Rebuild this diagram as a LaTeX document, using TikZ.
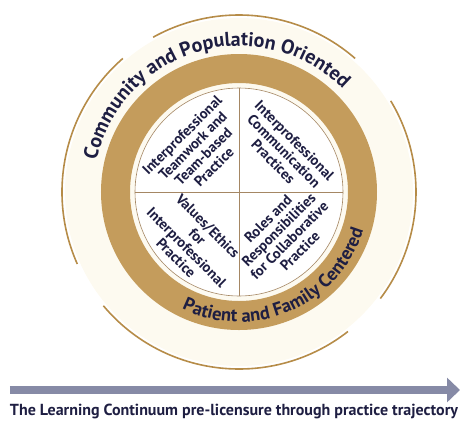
\documentclass[tikz,border=0pt]{standalone}
\usepackage{fontspec}
\setmainfont{PT Sans}
\usetikzlibrary{arrows.meta,decorations.text}
\definecolor{ringgold}{RGB}{196,156,92}
\definecolor{arcgold}{RGB}{182,140,72}
\definecolor{creamfill}{RGB}{253,250,240}
\definecolor{inknavy}{RGB}{30,30,66}
\definecolor{arrowgray}{RGB}{134,138,166}
\definecolor{discline}{RGB}{165,135,100}
\tikzset{
  quadtext/.style={align=center,text=inknavy,inner sep=0pt,
    font=\bfseries\fontsize{14.5}{15}\selectfont},
  outerarc/.style={arcgold,line width=1.6pt},
  divider/.style={discline,line width=0.6pt},
  track/.style={arrowgray,line width=8pt,-{Triangle[length=13pt,width=24pt]}},
  captiontext/.style={text=inknavy,inner sep=0pt,font=\bfseries\fontsize{16}{18}\selectfont}
}

\begin{document}
\begin{tikzpicture}[x=1pt,y=1pt]

    % -- Radii of the rings (centre of the wheel is the origin) --
    \def\rdisc{104}   % white disc with the four competencies
    \def\rgoldin{109} % inner edge of the gold ring
    \def\rgoldout{138}% outer edge of the gold ring
    \def\rcream{174}  % cream background disc
    \def\rarc{177}    % thin outer arcs

    \useasboundingbox (-239,-232) rectangle (221,192);
    \coordinate (hub) at (0,0);

    % -- Background disc and gold ring --
    \fill[creamfill] (hub) circle[radius=\rcream];
    \fill[ringgold,even odd rule] (hub) circle[radius=\rgoldout] (hub) circle[radius=\rgoldin];
    \filldraw[fill=white,draw=discline,line width=0.6pt] (hub) circle[radius=\rdisc];

    % -- Thin outer arcs with gaps between them --
    \foreach \from/\to in {49/119,131/204,220/308,323/391}
      \draw[outerarc] (\from:\rarc) arc[start angle=\from,end angle=\to,radius=\rarc];

    % -- Quadrant dividers --
    \draw[divider] (-\rdisc,0) -- (\rdisc,0);
    \draw[divider] (0,-\rdisc) -- (0,\rdisc);

    % -- Text along the rings --
    \path[decorate,decoration={text along path,text align=center,
      text={|\color{inknavy}\bfseries\fontsize{20}{20}\selectfont|Community and Population Oriented}}]
      (176:146) arc[start angle=176,end angle=36,radius=146];
    \path[decorate,decoration={text along path,text align=center,
      text={|\color{inknavy}\bfseries\fontsize{18.5}{18.5}\selectfont|Patient and Family Centered}}]
      (233:130) arc[start angle=233,end angle=354,radius=130];

    % -- The four competency domains --
    \node[quadtext,rotate=45] (teamwork) at (-41,41)
      {Interprofessional\\Teamwork and\\Team-based\\Practice};
    \node[quadtext,rotate=-45] (communication) at (45,41)
      {Interprofessional\\Communication\\Practices};
    \node[quadtext,rotate=-45] (values) at (-47,-50)
      {Values/Ethics\\for\\Interprofessional\\Practice};
    \node[quadtext,rotate=45] (roles) at (45,-43)
      {Roles and\\Responsibilities\\for Collaborative\\Practice};

    % -- Learning continuum arrow and caption --
    \coordinate (trackstart) at (-229,-198);
    \coordinate (trackend) at (221,-198);
    \draw[track] (trackstart) -- (trackend);
    \node[captiontext] (caption) at (-5,-219)
      {The Learning Continuum pre-licensure through practice trajectory};

\end{tikzpicture}
\end{document}
